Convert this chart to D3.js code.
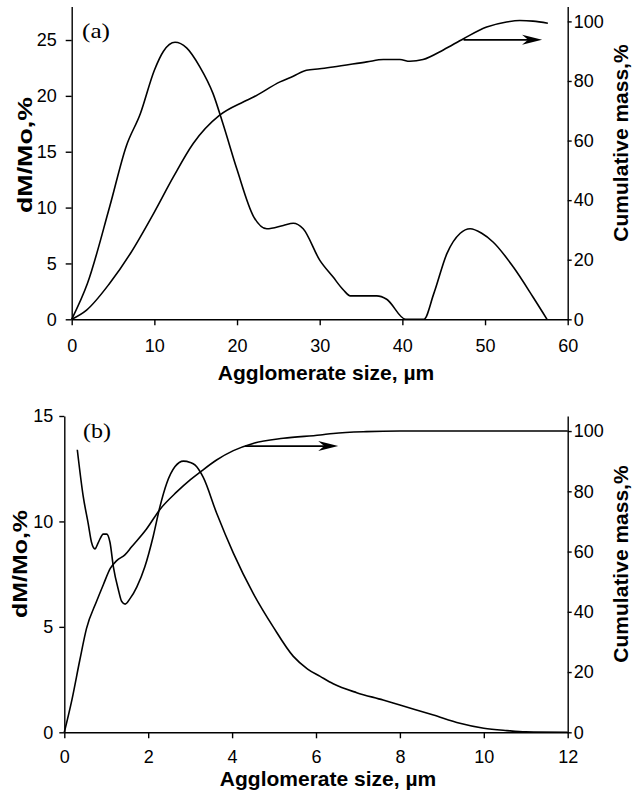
<!DOCTYPE html>
<html>
<head>
<meta charset="utf-8">
<script src="https://cdn.jsdelivr.net/npm/d3@7"></script>
<style>
  html, body { margin: 0; padding: 0; background: #fff; }
  svg { display: block; }
  .tick text { font-family: "Liberation Sans", Arial, sans-serif; font-size: 18px; fill: #000; }
  .title { font-family: "Liberation Sans", Arial, sans-serif; font-size: 21px; font-weight: bold; fill: #000; }
  .tag { font-family: "Liberation Serif", "Times New Roman", serif; font-size: 21px; fill: #000; }
</style>
</head>
<body>
<svg id="chart" width="632" height="795"></svg>
<script>
// ---- Panel (a): agglomerates, 0–60 µm ----
const aSize = [0, 1.9, 4.6, 6.6, 8.3, 10.0, 11.1, 12.5, 13.9, 15.5, 17.1, 18.3, 20.0, 22.0, 23.6, 25.6, 26.8, 28.0, 30.0, 31.6, 32.9, 33.7, 36.9, 38.1, 40.4, 42.6, 43.8, 45.4, 47.0, 48.2, 49.6, 51.0, 53.4, 55.8, 57.5];
const aDm   = [0, 3.2, 10.1, 15.5, 18.4, 22.3, 24.0, 24.8, 24.3, 22.6, 20.2, 17.5, 13.4, 9.2, 8.1, 8.4, 8.6, 8.1, 5.3, 3.8, 2.6, 2.1, 2.1, 1.8, 0, 0, 2.3, 5.9, 7.7, 8.1, 7.7, 6.9, 4.7, 2.0, 0];
const aCumSize = [0, 1.8, 4.6, 7.1, 9.9, 12.3, 14.7, 17.9, 20.8, 22.0, 25.2, 26.8, 28.4, 30.0, 31.6, 35.7, 37.7, 39.7, 40.9, 42.5, 45.0, 47.4, 50.2, 52.6, 54.2, 55.8, 57.6];
const aCum     = [0, 3.1, 12.1, 22.1, 35.5, 47.8, 59.0, 68.5, 73.0, 74.6, 79.7, 81.6, 83.6, 84.1, 84.7, 86.4, 87.2, 87.2, 86.6, 87.2, 90.5, 94.2, 98.1, 99.8, 100.3, 100.1, 99.4];
const aArrow = [47.4, 56.9, 93.8];   // from size, to size, at cumulative %
const aXTicks = [0, 10, 20, 30, 40, 50, 60];
const aLeftTicks = [0, 5, 10, 15, 20, 25];
const aRightTicks = [0, 20, 40, 60, 80, 100];

// ---- Panel (b): agglomerates, 0–12 µm ----
const bSize = [0.31, 0.45, 0.57, 0.65, 0.73, 0.81, 0.93, 1.01, 1.09, 1.17, 1.29, 1.37, 1.45, 1.57, 1.73, 1.92, 2.12, 2.28, 2.44, 2.64, 2.84, 3.0, 3.12, 3.31, 3.63, 4.03, 4.5, 4.98, 5.46, 5.8, 6.1, 6.41, 6.97, 7.6, 8.0, 8.8, 9.43, 10.0, 10.55, 11.0, 12.0];
const bDm   = [13.4, 11.2, 9.9, 9.0, 8.7, 9.0, 9.4, 9.4, 9.0, 7.85, 6.75, 6.2, 6.08, 6.35, 6.9, 7.85, 9.3, 10.7, 11.8, 12.6, 12.86, 12.8, 12.67, 12.1, 10.4, 8.5, 6.6, 5.0, 3.6, 3.0, 2.65, 2.3, 1.88, 1.53, 1.29, 0.82, 0.43, 0.19, 0.08, 0.02, 0];
const bCumSize = [0, 0.18, 0.37, 0.53, 0.77, 0.93, 1.1, 1.25, 1.45, 1.6, 1.96, 2.28, 2.68, 3.0, 3.23, 3.63, 4.03, 4.5, 5.22, 6.1, 6.41, 7.2, 8.0, 12.0];
const bCum     = [0, 10.7, 24.0, 34.5, 43.5, 49.0, 54.5, 57.0, 59.0, 61.5, 67.5, 74.0, 79.8, 83.8, 86.3, 90.4, 93.5, 95.9, 97.6, 98.7, 99.2, 99.8, 100, 100];
const bArrow = [4.31, 6.53, 95.0];
const bXTicks = [0, 2, 4, 6, 8, 10, 12];
const bLeftTicks = [0, 5, 10, 15];
const bRightTicks = [0, 20, 40, 60, 80, 100];

const svg = d3.select("#chart");

function panel(cfg) {
  const g = svg.append("g");
  const x = d3.scaleLinear().domain(cfg.xDomain).range([cfg.left, cfg.right]);
  const yL = d3.scaleLinear().domain(cfg.yLDomain).range([cfg.bottom, cfg.top]);
  const yR = d3.scaleLinear().domain(cfg.yRDomain).range([cfg.bottom, cfg.top]);

  const styleAxis = sel => {
    sel.selectAll("path, line").attr("stroke", "#000").attr("stroke-width", 1.4);
    sel.attr("font-family", null).attr("font-size", null);
  };

  g.append("g").attr("transform", `translate(0,${cfg.bottom})`)
    .call(d3.axisBottom(x).tickValues(cfg.xTicks).tickSize(6).tickSizeOuter(0).tickPadding(cfg.xPad).tickFormat(d3.format("d")))
    .call(styleAxis);
  g.append("g").attr("transform", `translate(${cfg.left},0)`)
    .call(d3.axisLeft(yL).tickValues(cfg.yLTicks).tickSize(cfg.lTick).tickSizeOuter(0).tickPadding(cfg.lPad).tickFormat(d3.format("d")))
    .call(styleAxis);
  g.append("g").attr("transform", `translate(${cfg.right},0)`)
    .call(d3.axisRight(yR).tickValues(cfg.yRTicks).tickSize(4).tickSizeOuter(0).tickPadding(2).tickFormat(d3.format("d")))
    .call(styleAxis);

  const lineL = d3.line().x(d => x(d[0])).y(d => yL(d[1])).curve(d3.curveMonotoneX);
  const lineR = d3.line().x(d => x(d[0])).y(d => yR(d[1])).curve(d3.curveMonotoneX);

  g.append("path").datum(d3.zip(cfg.size, cfg.dm))
    .attr("d", lineL).attr("fill", "none").attr("stroke", "#000").attr("stroke-width", 1.6);
  g.append("path").datum(d3.zip(cfg.cumSize, cfg.cum))
    .attr("d", lineR).attr("fill", "none").attr("stroke", "#000").attr("stroke-width", 1.6);

  // arrow pointing to the cumulative (right-hand) axis
  const ax0 = x(cfg.arrow[0]), ax1 = x(cfg.arrow[1]), ay = yR(cfg.arrow[2]);
  g.append("line").attr("x1", ax0).attr("x2", ax1 - 10).attr("y1", ay).attr("y2", ay)
    .attr("stroke", "#000").attr("stroke-width", 1.6);
  g.append("path")
    .attr("d", `M${ax1},${ay} L${ax1 - 20},${ay - 5} L${ax1 - 14},${ay} L${ax1 - 20},${ay + 5} Z`)
    .attr("fill", "#000");

  // titles
  g.append("text").attr("class", "title")
    .attr("x", cfg.xTitle[0]).attr("y", cfg.xTitle[1]).attr("text-anchor", "middle")
    .text("Agglomerate size, µm");
  g.append("text").attr("class", "title")
    .attr("transform", `translate(${cfg.lTitle[0]},${cfg.lTitle[1]}) rotate(-90)`)
    .attr("text-anchor", "middle")
    .attr("textLength", cfg.lTitle[2]).attr("lengthAdjust", "spacingAndGlyphs")
    .text("dM/Mo,%");
  g.append("text").attr("class", "title")
    .attr("transform", `translate(${cfg.rTitle[0]},${cfg.rTitle[1]}) rotate(-90)`)
    .attr("text-anchor", "middle")
    .text("Cumulative mass,%");
  g.append("text").attr("class", "tag")
    .attr("x", cfg.tag[0]).attr("y", cfg.tag[1])
    .attr("textLength", 28).attr("lengthAdjust", "spacingAndGlyphs")
    .text(cfg.tagText);
}

panel({
  xDomain: [0, 60], yLDomain: [0, 28], yRDomain: [0, 105],
  left: 71.7, right: 567.7, top: 6.5, bottom: 319.3,
  xTicks: aXTicks, yLTicks: aLeftTicks, yRTicks: aRightTicks,
  xPad: 13.5, lTick: 6, lPad: 9,
  size: aSize, dm: aDm, cumSize: aCumSize, cum: aCum, arrow: aArrow,
  xTitle: [326, 379.5], lTitle: [32, 155, 116], rTitle: [628, 143],
  tag: [82, 38], tagText: "(a)"
});

panel({
  xDomain: [0, 12], yLDomain: [0, 15], yRDomain: [0, 105],
  left: 64.3, right: 567.7, top: 416, bottom: 732.3,
  xTicks: bXTicks, yLTicks: bLeftTicks, yRTicks: bRightTicks,
  xPad: 12, lTick: 5, lPad: 6,
  size: bSize, dm: bDm, cumSize: bCumSize, cum: bCum, arrow: bArrow,
  xTitle: [328, 786], lTitle: [27, 564, 108], rTitle: [628, 564],
  tag: [83, 438], tagText: "(b)"
});
</script>
</body>
</html>
